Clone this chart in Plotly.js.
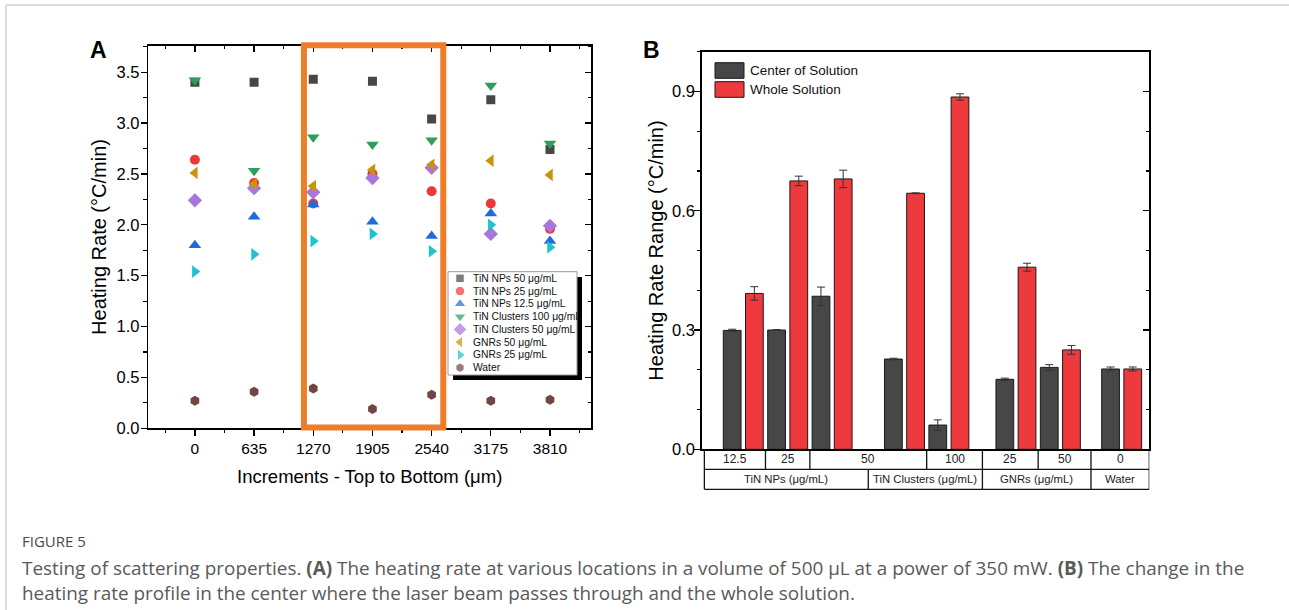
<!DOCTYPE html>
<html><head><meta charset="utf-8">
<script src="https://cdn.plot.ly/plotly-3.0.1.min.js"></script>
<style>html,body{margin:0;padding:0;background:#fff}#chart{width:1289px;height:610px}</style>
</head><body><div id="chart"></div>
<script>
// ---------- Panel A data ----------
const depths = [0, 635, 1270, 1905, 2540, 3175, 3810];
const seriesNames = ["TiN NPs 50 μg/mL","TiN NPs 25 μg/mL","TiN NPs 12.5 μg/mL","TiN Clusters 100 μg/mL","TiN Clusters 50 μg/mL","GNRs 50 μg/mL","GNRs 25 μg/mL","Water"];
const tinNPs50       = [3.40, 3.40, 3.43, 3.41, 3.04, 3.23, 2.74];
const tinNPs25       = [2.64, 2.41, 2.21, 2.50, 2.33, 2.21, 1.96];
const tinNPs12_5     = [1.80, 2.08, 2.20, 2.03, 1.89, 2.11, 1.84];
const tinClusters100 = [3.42, 2.53, 2.86, 2.79, 2.83, 3.37, 2.80];
const tinClusters50  = [2.24, 2.36, 2.32, 2.46, 2.56, 1.91, 1.99];
const gnrs50         = [2.51, 2.40, 2.38, 2.54, 2.59, 2.63, 2.49];
const gnrs25         = [1.54, 1.71, 1.84, 1.91, 1.74, 2.00, 1.78];
const water          = [0.27, 0.36, 0.39, 0.19, 0.33, 0.27, 0.28];
const highlightFrom = 1270, highlightTo = 2540;

// ---------- Panel B data ----------
const groupX      = [0, 1, 2, 3.63, 4.63, 6.14, 7.14, 8.52];
const centerVals  = [0.299, 0.300, 0.385, 0.227, 0.061, 0.176, 0.206, 0.202];
const centerErr   = [0.003, 0.001, 0.023, 0.002, 0.013, 0.003, 0.007, 0.005];
const wholeVals   = [0.392, 0.675, 0.680, 0.644, 0.886, 0.458, 0.250, 0.202];
const wholeErr    = [0.017, 0.012, 0.022, 0.001, 0.008, 0.010, 0.011, 0.005];
const barNames    = ["Center of Solution", "Whole Solution"];
const concLabels  = ["12.5", "25", "50", "100", "25", "50", "0"];
const concSpans   = [[0,0],[1,1],[2,3],[4,4],[5,5],[6,6],[7,7]];
const matLabels   = ["TiN NPs (μg/mL)", "TiN Clusters (μg/mL)", "GNRs (μg/mL)", "Water"];
const matSpans    = [[0,2],[3,4],[5,6],[7,7]];

// ---------- styles ----------
const FONT = "Arial, 'Liberation Sans', sans-serif";
const seriesData = [tinNPs50, tinNPs25, tinNPs12_5, tinClusters100, tinClusters50, gnrs50, gnrs25, water];
const symbols = ["square","circle","triangle-up","triangle-down","diamond","triangle-left","triangle-right","hexagon"];
const colors  = ["#474747","#EE3838","#1F6BDB","#2E9E5C","#A876DC","#C9940A","#1FC3CC","#6F4641"];
const sizes   = [9, 10, 11, 11, 11, 11, 11, 10];
const darkBar = "#474747", redBar = "#EE3A3D";

const W = 1289, H = 610;
const px = v => v / W, py = v => 1 - v / H;

const traces = [];
seriesData.forEach((ys, i) => {
  traces.push({type:"scatter", mode:"markers", x: depths, y: ys, name: seriesNames[i],
    xaxis:"x", yaxis:"y", showlegend:false,
    marker:{symbol: symbols[i], color: colors[i], size: sizes[i], line:{width:0}}});
});
// overlay dummies (for mirrored inside ticks)
traces.push({type:"scatter", x:[null], y:[null], xaxis:"x2", yaxis:"y", showlegend:false, hoverinfo:"skip"});
traces.push({type:"scatter", x:[null], y:[null], xaxis:"x", yaxis:"y2", showlegend:false, hoverinfo:"skip"});
traces.push({type:"scatter", x:[null], y:[null], xaxis:"x3", yaxis:"y4", showlegend:false, hoverinfo:"skip"});

// panel B bars
traces.push({type:"bar", x: groupX, y: centerVals, name: barNames[0], xaxis:"x3", yaxis:"y3",
  width: 0.4, offset: -0.45, showlegend:false,
  marker:{color: darkBar, line:{color:"#1a1a1a", width:1}},
  error_y:{type:"data", array: centerErr, visible:true, color:"#333", thickness:1, width:4}});
traces.push({type:"bar", x: groupX, y: wholeVals, name: barNames[1], xaxis:"x3", yaxis:"y3",
  width: 0.4, offset: 0.05, showlegend:false,
  marker:{color: redBar, line:{color:"#1a1a1a", width:1}},
  error_y:{type:"data", array: wholeErr, visible:true, color:"#333", thickness:1, width:4}});

// custom legend for panel A (hidden axes x5/y5)
const legRowY = seriesNames.map((_, i) => 6.6 + i * 12.77);
traces.push({type:"scatter", mode:"markers", xaxis:"x5", yaxis:"y5", showlegend:false, hoverinfo:"skip",
  x: seriesNames.map(() => 12), y: legRowY,
  marker:{symbol: symbols, color: colors, size: sizes.map(s => s - 0.5)}});

const annotations = [];
seriesNames.forEach((n, i) => annotations.push({xref:"x5", yref:"y5", x: 22.5, y: legRowY[i],
  text: n, showarrow:false, xanchor:"left", yanchor:"middle", font:{family:FONT, size:10.3, color:"#111"}}));

// Panel labels
annotations.push({xref:"paper", yref:"paper", x: px(98.5), y: py(50), text:"<b>A</b>", showarrow:false,
  xanchor:"center", yanchor:"middle", font:{family:FONT, size:23, color:"#000"}});
annotations.push({xref:"paper", yref:"paper", x: px(651), y: py(50), text:"<b>B</b>", showarrow:false,
  xanchor:"center", yanchor:"middle", font:{family:FONT, size:23, color:"#000"}});

// Panel B legend text
annotations.push({xref:"paper", yref:"paper", x: px(748), y: py(70.5), text: barNames[0], showarrow:false,
  xanchor:"left", yanchor:"middle", font:{family:FONT, size:13.5, color:"#111"}});
annotations.push({xref:"paper", yref:"paper", x: px(748), y: py(89.5), text: barNames[1], showarrow:false,
  xanchor:"left", yanchor:"middle", font:{family:FONT, size:13.5, color:"#111"}});

// Panel B category table
const xMinB = -0.936, xMaxB = 9.143, tableLeft = -0.876;
const edgeBefore = i => i === 0 ? tableLeft : (groupX[i-1] + groupX[i]) / 2;
const edgeAfter  = i => i === groupX.length - 1 ? xMaxB : (groupX[i] + groupX[i+1]) / 2;
const rowTop = py(449.3), rowMid = py(469.3), rowBot = py(489.3);
const shapes = [];
const lineStyle = {color:"#111", width:1.3};
shapes.push({type:"line", xref:"x3", yref:"paper", x0: tableLeft, x1: xMaxB, y0: rowMid, y1: rowMid, line: lineStyle});
shapes.push({type:"line", xref:"x3", yref:"paper", x0: tableLeft, x1: xMaxB, y0: rowBot, y1: rowBot, line: lineStyle});
shapes.push({type:"line", xref:"x3", yref:"paper", x0: tableLeft, x1: tableLeft, y0: rowTop, y1: rowBot, line: lineStyle});
shapes.push({type:"line", xref:"x3", yref:"paper", x0: xMaxB, x1: xMaxB, y0: rowTop, y1: rowBot, line: lineStyle});
concSpans.forEach((s, k) => {
  const a = edgeBefore(s[0]), b = edgeAfter(s[1]);
  if (k > 0) shapes.push({type:"line", xref:"x3", yref:"paper", x0:a, x1:a, y0: rowTop, y1: rowMid, line: lineStyle});
  annotations.push({xref:"x3", yref:"paper", x:(a+b)/2, y:(rowTop+rowMid)/2, text: concLabels[k], showarrow:false,
    xanchor:"center", yanchor:"middle", font:{family:FONT, size:12, color:"#222"}});
});
matSpans.forEach((s, k) => {
  const a = edgeBefore(s[0]), b = edgeAfter(s[1]);
  if (k > 0) shapes.push({type:"line", xref:"x3", yref:"paper", x0:a, x1:a, y0: rowMid, y1: rowBot, line: lineStyle});
  annotations.push({xref:"x3", yref:"paper", x:(a+b)/2, y:(rowMid+rowBot)/2, text: matLabels[k], showarrow:false,
    xanchor:"center", yanchor:"middle", font:{family:FONT, size:11.3, color:"#222"}});
});

// Panel B legend swatches
shapes.push({type:"rect", xref:"paper", yref:"paper", x0: px(715), x1: px(744), y0: py(62.7), y1: py(78.3),
  fillcolor: darkBar, line:{color:"#1a1a1a", width:1}});
shapes.push({type:"rect", xref:"paper", yref:"paper", x0: px(715), x1: px(744), y0: py(81.7), y1: py(97.3),
  fillcolor: redBar, line:{color:"#1a1a1a", width:1}});

// Panel A legend box + shadow
shapes.push({type:"rect", layer:"below", xref:"paper", yref:"paper", x0: px(453), x1: px(582), y0: py(277), y1: py(380),
  fillcolor:"#000", line:{width:0}});
shapes.push({type:"rect", layer:"below", xref:"paper", yref:"paper", x0: px(448), x1: px(577), y0: py(271.7), y1: py(375),
  fillcolor:"#fff", line:{color:"#999", width:1}});

// Orange highlight rectangle
shapes.push({type:"rect", xref:"x", yref:"paper", x0: highlightFrom - 100, x1: highlightTo + 125,
  y0: py(427.5), y1: py(45.2), fillcolor:"rgba(0,0,0,0)", line:{color:"#EE7D2A", width:6}});

// page border lines
shapes.push({type:"line", xref:"paper", yref:"paper", x0: px(6), x1: 1, y0: py(5), y1: py(5), line:{color:"#cfcfcf", width:1.5}});
shapes.push({type:"line", xref:"paper", yref:"paper", x0: px(6), x1: px(6), y0: py(5), y1: 0, line:{color:"#cfcfcf", width:1.5}});

// Caption
annotations.push({xref:"paper", yref:"paper", x: px(20), y: py(541), text:"FIGURE 5", showarrow:false,
  xanchor:"left", yanchor:"middle", font:{family:"'Open Sans', sans-serif", size:15, color:"#4a4a4a"}});
annotations.push({xref:"paper", yref:"paper", x: px(20), y: py(568), showarrow:false, xanchor:"left", yanchor:"middle",
  text:"Testing of scattering properties. <b>(A)</b> The heating rate at various locations in a volume of 500 μL at a power of 350 mW. <b>(B)</b> The change in the",
  font:{family:"'Open Sans', sans-serif", size:18.9, color:"#5a5a5a"}});
annotations.push({xref:"paper", yref:"paper", x: px(20), y: py(593), showarrow:false, xanchor:"left", yanchor:"middle",
  text:"heating rate profile in the center where the laser beam passes through and the whole solution.",
  font:{family:"'Open Sans', sans-serif", size:18.9, color:"#5a5a5a"}});

const axLine = {showline:true, linecolor:"#000", linewidth:1.5, showgrid:false, zeroline:false};
const tickStyle = {tickcolor:"#000", tickwidth:1.3};

const layout = {
  width: W, height: H,
  margin:{l:0, r:0, t:0, b:0},
  paper_bgcolor:"#fff", plot_bgcolor:"rgba(0,0,0,0)",
  font:{family: FONT, color:"#000"},
  showlegend:false,
  xaxis: Object.assign({}, axLine, tickStyle, {
    domain:[px(148.3), px(591)], anchor:"y", range:[-500, 4250],
    tick0:0, dtick:635, ticks:"outside", ticklen:6,
    minor:{ticks:"outside", tick0:0, dtick:317.5, ticklen:3.5, tickcolor:"#000", tickwidth:1.2},
    tickfont:{size:15.5, family:FONT},
    title:{text:"Increments - Top to Bottom (μm)", font:{size:18.5, family:FONT}, standoff:13}
  }),
  xaxis2: Object.assign({}, axLine, tickStyle, {
    overlaying:"x", side:"top", anchor:"y", range:[-500, 4250],
    tick0:0, dtick:635, ticks:"inside", ticklen:6, showticklabels:false,
    minor:{ticks:"inside", tick0:0, dtick:317.5, ticklen:3.5, tickcolor:"#000", tickwidth:1.2}
  }),
  yaxis: Object.assign({}, axLine, tickStyle, {
    domain:[py(428.3), py(45.7)], anchor:"x", range:[0, 3.76],
    tick0:0, dtick:0.5, tickformat:".1f", ticks:"outside", ticklen:6, ticklabelstandoff:-2,
    minor:{ticks:"outside", tick0:0, dtick:0.25, ticklen:3.5, tickcolor:"#000", tickwidth:1.2},
    tickfont:{size:16.5, family:FONT},
    title:{text:"Heating Rate (°C/min)", font:{size:20, family:FONT}, standoff:4}
  }),
  yaxis2: Object.assign({}, axLine, tickStyle, {
    overlaying:"y", side:"right", anchor:"x", range:[0, 3.76],
    tick0:0, dtick:0.5, ticks:"inside", ticklen:6, showticklabels:false,
    minor:{ticks:"inside", tick0:0, dtick:0.25, ticklen:3.5, tickcolor:"#000", tickwidth:1.2}
  }),
  xaxis3: Object.assign({}, axLine, {
    domain:[px(701.7), px(1149.3)], anchor:"y3", range:[xMinB, xMaxB],
    showticklabels:false, ticks:"", mirror:true
  }),
  yaxis3: Object.assign({}, axLine, tickStyle, {
    domain:[py(449.3), py(51.7)], anchor:"x3", range:[0, 1.0],
    tick0:0, dtick:0.3, tickformat:".1f", ticks:"outside", ticklen:6, ticklabelstandoff:-4,
    minor:{ticks:"outside", tick0:0, dtick:0.1, ticklen:3.5, tickcolor:"#000", tickwidth:1.2},
    tickfont:{size:16.5, family:FONT},
    title:{text:"Heating Rate Range (°C/min)", font:{size:20, family:FONT}, standoff:3}
  }),
  yaxis4: Object.assign({}, axLine, tickStyle, {
    overlaying:"y3", side:"right", anchor:"x3", range:[0, 1.0],
    tick0:0, dtick:0.3, ticks:"inside", ticklen:6, showticklabels:false,
    minor:{ticks:"inside", tick0:0, dtick:0.1, ticklen:3.5, tickcolor:"#000", tickwidth:1.2}
  }),
  xaxis5: {domain:[px(448), px(577)], anchor:"y5", range:[0, 129], visible:false, fixedrange:true},
  yaxis5: {domain:[py(375), py(271.7)], anchor:"x5", range:[103.3, 0], visible:false, fixedrange:true},
  barmode:"overlay",
  shapes: shapes,
  annotations: annotations
};

Plotly.newPlot("chart", traces, layout, {staticPlot:true, displayModeBar:false});
</script>
</body></html>
